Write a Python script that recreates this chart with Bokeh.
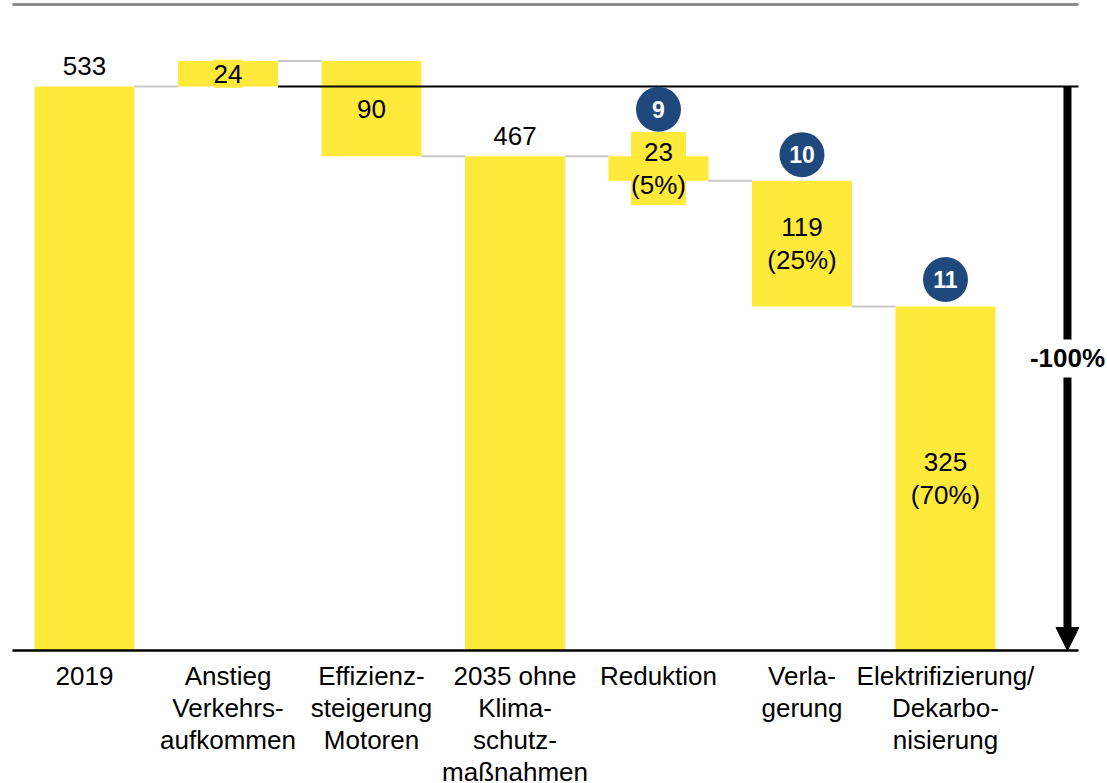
from bokeh.plotting import figure
from bokeh.models import (Range1d, FixedTicker, Label, Arrow, NormalHead,
                          ColumnDataSource)
from bokeh.embed import file_html
from bokeh.resources import INLINE
from bokeh.core.properties import value

# ---------------- data ----------------
categories = ["2019",
              "Anstieg\nVerkehrs-\naufkommen",
              "Effizienz-\nsteigerung\nMotoren",
              "2035 ohne\nKlima-\nschutz-\nmaßnahmen",
              "Reduktion",
              "Verla-\ngerung",
              "Elektrifizierung/\nDekarbo-\nnisierung"]
kinds = ["total", "delta", "delta", "total", "delta", "delta", "delta"]
values = [533, 24, -90, 467, -23, -119, -325]
shares = [None, None, None, None, 5, 25, 70]
badges = [None, None, None, None, "9", "10", "11"]
total_change_label = "-100%"

# ---------------- style ----------------
YELLOW = "#FFE93B"
BLUE = "#1F497D"
FONT = "Liberation Sans"
FS = "26px"
LH_AXIS = 1.07
LH = 1.1
FRAME_W, FRAME_H = 1107, 653
PXU = 1.0582                      # pixels per data unit
Y_START, Y_END = -3 / PXU, 650 / PXU
X_START, X_END = -0.5854, 7.129
RULE_X0, RULE_X1 = -0.502, 6.927  # extent of horizontal rules
TOP_RULE_Y = (650 - 4) / PXU
BAR_W = 0.697

# ---------------- waterfall geometry ----------------
bottoms, tops, levels = [], [], []
running = 0
for k, v in zip(kinds, values):
    if k == "total":
        b, t = 0, v
        running = v
    else:
        new = running + v
        b, t = min(running, new), max(running, new)
        running = new
    bottoms.append(b)
    tops.append(t)
    levels.append(running)

xs = list(range(len(categories)))

p = figure(frame_width=FRAME_W, frame_height=FRAME_H,
           x_range=Range1d(X_START, X_END), y_range=Range1d(Y_START, Y_END),
           output_backend="svg", toolbar_location=None,
           y_axis_location=None, x_axis_location="below")
p.min_border_left = 0
p.min_border_right = 0
p.min_border_top = 0
p.min_border_bottom = 0
p.outline_line_color = None
p.grid.visible = False
p.background_fill_color = "white"
p.border_fill_color = "white"

# bottom axis with multi-line category labels
xa = p.xaxis[0]
xa.ticker = FixedTicker(ticks=xs)
xa.major_label_overrides = {i: c for i, c in zip(xs, categories)}
xa.major_label_text_font = FONT
xa.major_label_text_font_size = FS
xa.major_label_text_color = "black"
xa.major_label_text_line_height = LH_AXIS
xa.major_label_standoff = 1
xa.major_tick_line_color = None
xa.minor_tick_line_color = None
xa.axis_line_color = None

# top grey rule
p.segment(x0=[RULE_X0], y0=[TOP_RULE_Y], x1=[RULE_X1], y1=[TOP_RULE_Y],
          line_color="#8C8C8C", line_width=3)

# bars
src = ColumnDataSource(dict(x=xs, bottom=bottoms, top=tops))
p.vbar(x="x", width=BAR_W, bottom="bottom", top="top", source=src,
       fill_color=YELLOW, line_color=None)

# baseline
p.segment(x0=[RULE_X0], y0=[0], x1=[RULE_X1], y1=[0],
          line_color="black", line_width=2.5)

# connectors
cx0 = [i + BAR_W / 2 for i in xs[:-1]]
cx1 = [i + 1 - BAR_W / 2 for i in xs[:-1]]
cy = levels[:-1]
p.segment(x0=cx0, y0=cy, x1=cx1, y1=cy, line_color="#C8C8C8", line_width=2)

# reference line at the 2019 level
ax_x = 6.85
p.segment(x0=[1 + BAR_W / 2], y0=[values[0]], x1=[RULE_X1], y1=[values[0]],
          line_color="black", line_width=2)

# value labels
for i, (k, v, s, b, t) in enumerate(zip(kinds, values, shares, bottoms, tops)):
    txt = str(abs(v)) + ("" if s is None else "\n(%d%%)" % s)
    if k == "total":
        p.add_layout(Label(x=i, y=t, text=txt, text_font=FONT, text_font_size=FS,
                           text_align="center", text_baseline="middle",
                           y_offset=20, text_color="black"))
    else:
        p.add_layout(Label(x=i, y=(b + t) / 2, text=txt, text_font=FONT,
                           text_font_size=FS, text_align="center",
                           text_baseline="middle", text_color="black",
                           text_line_height=LH,
                           background_fill_color=YELLOW, padding=(0, 5)))

# badges
bx, by, bt = [], [], []
badge_gap = {4: 47, 5: 26, 6: 27}
for i, bd in enumerate(badges):
    if bd is None:
        continue
    bx.append(i)
    by.append(tops[i] + badge_gap[i] / PXU)
    bt.append(bd)
p.scatter(x=bx, y=by, size=45, marker="circle", fill_color=BLUE, line_color=None)
p.text(x=bx, y=by, text=bt, text_color="white", text_font=value(FONT),
       text_font_size="23px", text_font_style="bold", text_align="center",
       text_baseline="middle")

# -100% arrow
p.add_layout(Arrow(end=NormalHead(size=23, fill_color="black", line_color="black"),
                   x_start=ax_x, y_start=values[0], x_end=ax_x, y_end=0,
                   line_width=8, line_color="black"))
p.add_layout(Label(x=ax_x, y=values[0] / 2, y_offset=10, text=total_change_label,
                   text_font=FONT, text_font_size="26px", text_font_style="bold",
                   text_align="center", text_baseline="middle", text_color="black",
                   background_fill_color="white", padding=(13, 4)))

open("out.html", "w").write(file_html(p, INLINE))
